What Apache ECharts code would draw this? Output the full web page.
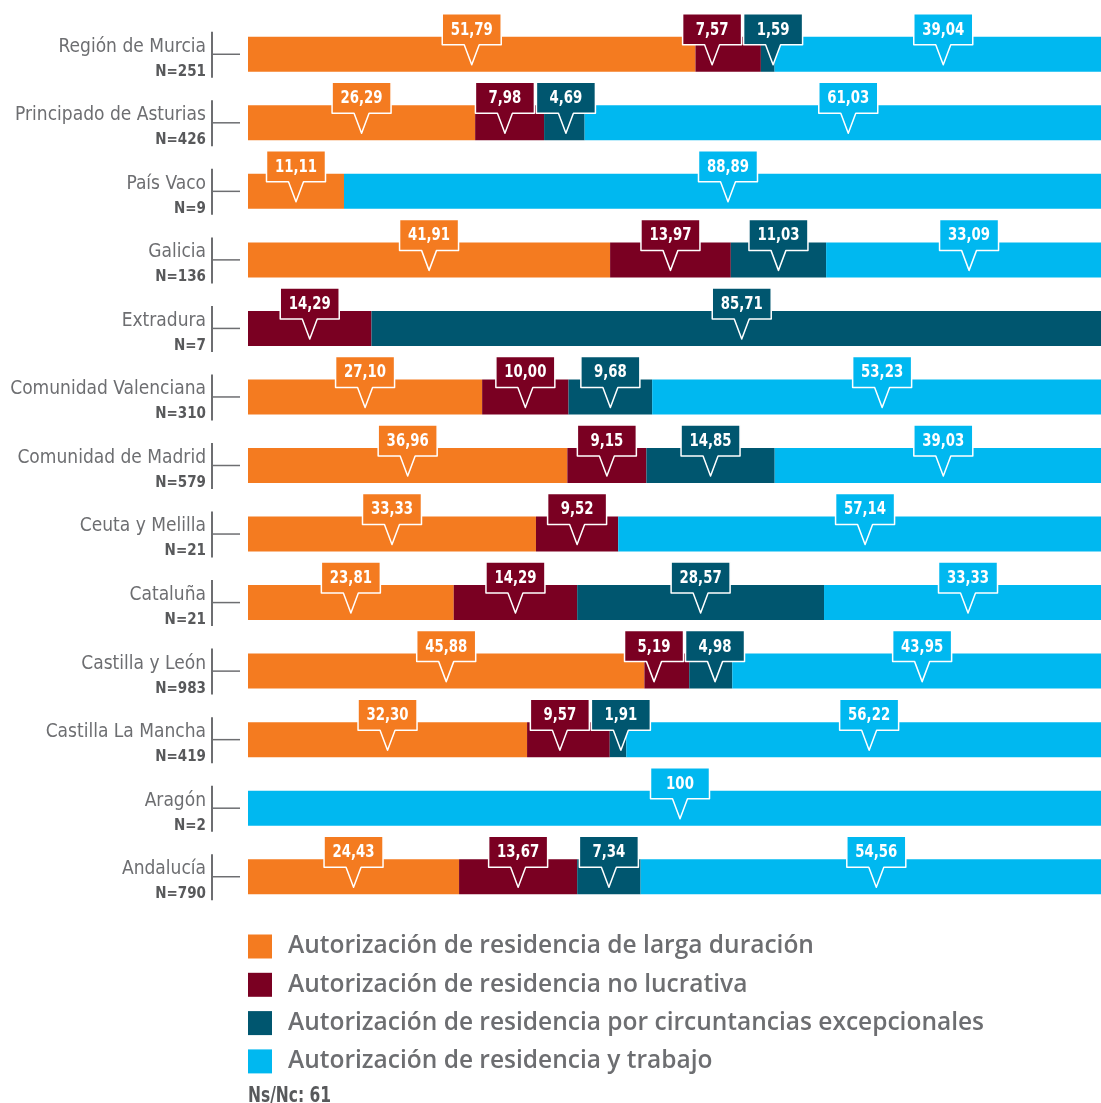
<!DOCTYPE html>
<html>
<head>
<meta charset="utf-8">
<script src="https://cdn.jsdelivr.net/npm/echarts@6/dist/echarts.min.js"></script>
<style>
  html, body { margin: 0; padding: 0; background: #fff; overflow: hidden; }
  #chart { width: 1101px; height: 1103px; }
</style>
</head>
<body>
<div id="chart"></div>
<script>
// comunidades (de arriba a abajo)
var regiones = ['Región de Murcia', 'Principado de Asturias', 'País Vaco', 'Galicia', 'Extradura',
    'Comunidad Valenciana', 'Comunidad de Madrid', 'Ceuta y Melilla', 'Cataluña', 'Castilla y León',
    'Castilla La Mancha', 'Aragón', 'Andalucía'];
var tamanos = ['N=251', 'N=426', 'N=9', 'N=136', 'N=7', 'N=310', 'N=579', 'N=21', 'N=21', 'N=983', 'N=419', 'N=2', 'N=790'];

var nombres = ['Autorización de residencia de larga duración',
    'Autorización de residencia no lucrativa',
    'Autorización de residencia por circuntancias excepcionales',
    'Autorización de residencia y trabajo'];
var colores = ['#F47B20', '#7A0022', '#00566F', '#00B8F0'];

// porcentajes por tipo de autorización
var largaDuracion = [51.79, 26.29, 11.11, 41.91, 0, 27.10, 36.96, 33.33, 23.81, 45.88, 32.30, 0, 24.43];
var noLucrativa   = [7.57, 7.98, 0, 13.97, 14.29, 10.00, 9.15, 9.52, 14.29, 5.19, 9.57, 0, 13.67];
var excepcionales = [1.59, 4.69, 0, 11.03, 85.71, 9.68, 14.85, 0, 28.57, 4.98, 1.91, 0, 7.34];
var trabajo       = [39.04, 61.03, 88.89, 33.09, 0, 53.23, 39.03, 57.14, 33.33, 43.95, 56.22, 100, 54.56];

var nsnc = 'Ns/Nc: 61';

var valores = [largaDuracion, noLucrativa, excepcionales, trabajo];

function fmt(v) {
    if (v === 100) return '100';
    return v.toFixed(2).replace('.', ',');
}

// datos para los globos: [inicio, fin, categoria, serie, valor]
var globos = [];
for (var i = 0; i < regiones.length; i++) {
    var acc = 0;
    for (var s = 0; s < valores.length; s++) {
        var v = valores[s][i];
        if (v > 0) globos.push([acc, acc + v, i, s, v]);
        acc += v;
    }
}
var marcas = regiones.map(function (r, i) { return [0, i]; });

var fuenteEstrecha = '"DejaVu Sans Condensed", "DejaVu Sans", sans-serif';
var anchoGlobo = 59;

// centros de los globos de una fila, separados si se solapan
function centrosFila(api, fila) {
    var lista = [];
    for (var k = 0; k < globos.length; k++) {
        if (globos[k][2] !== fila) continue;
        var a = api.coord([globos[k][0], fila]);
        var b = api.coord([globos[k][1], fila]);
        lista.push({ idx: k, c: (a[0] + b[0]) / 2 });
    }
    for (var j = 1; j < lista.length; j++) {
        var d = lista[j].c - lista[j - 1].c;
        if (d < anchoGlobo + 2) {
            var falta = anchoGlobo + 2 - d;
            lista[j - 1].c -= falta * 0.75;
            lista[j].c += falta * 0.25;
        }
    }
    return lista;
}

var series = nombres.map(function (n, s) {
    return {
        name: n,
        type: 'bar',
        stack: 'total',
        barWidth: 35,
        itemStyle: { color: colores[s] },
        data: valores[s]
    };
});

// lineas del eje (segmentos por categoria)
series.push({
    type: 'custom',
    name: 'eje',
    clip: false,
    silent: true,
    encode: { x: 0, y: 1 },
    data: marcas,
    renderItem: function (params, api) {
        var p = api.coord([0, api.value(1)]);
        var x = p[0] - 36;
        return {
            type: 'group',
            children: [
                { type: 'line', shape: { x1: x, y1: p[1] - 22.5, x2: x, y2: p[1] + 23.5 },
                  style: { stroke: '#6d6e71', lineWidth: 2 } },
                { type: 'line', shape: { x1: x, y1: p[1], x2: p[0] - 8, y2: p[1] },
                  style: { stroke: '#6d6e71', lineWidth: 1.5 } }
            ]
        };
    }
});

// globos con los valores
series.push({
    type: 'custom',
    name: 'globos',
    clip: false,
    silent: true,
    z: 10,
    encode: { x: [0, 1], y: 2 },
    data: globos,
    renderItem: function (params, api) {
        var fila = api.value(2);
        var s = api.value(3);
        var p0 = api.coord([api.value(0), fila]);
        var lista = centrosFila(api, fila);
        var cx = p0[0];
        for (var k = 0; k < lista.length; k++) {
            if (lista[k].idx === params.dataIndex) cx = lista[k].c;
        }
        var top = p0[1] - 17.5;
        var w = anchoGlobo / 2;
        var l = cx - w, r = cx + w, t = top - 23, b = top + 8, tip = top + 28;
        return {
            type: 'group',
            children: [
                {
                    type: 'polygon',
                    shape: { points: [[l, t], [r, t], [r, b], [cx + 7.5, b], [cx, tip], [cx - 7.5, b], [l, b]] },
                    style: { fill: colores[s], stroke: '#fff', lineWidth: 1.5, lineJoin: 'round' }
                },
                {
                    type: 'text',
                    x: cx,
                    y: (t + b) / 2 + 1,
                    scaleX: 0.87,
                    style: {
                        text: fmt(api.value(4)),
                        x: 0, y: 0,
                        align: 'center', verticalAlign: 'middle',
                        fill: '#fff',
                        font: 'bold 17px ' + fuenteEstrecha
                    }
                }
            ]
        };
    }
});

var myChart = echarts.init(document.getElementById('chart'));
var option = {
    animation: false,
    grid: { left: 248, width: 864, top: 20, height: 891, outerBoundsMode: 'none', containLabel: false },
    xAxis: { type: 'value', min: 0, max: 100, show: false },
    yAxis: {
        type: 'category',
        inverse: true,
        data: regiones,
        axisLine: { show: false },
        axisTick: { show: false },
        axisLabel: {
            margin: 42,
            padding: [10, 0, 0, 0],
            formatter: function (val, idx) {
                return '{n|' + val + '}\n{c|' + tamanos[idx] + '}';
            },
            rich: {
                n: { fontFamily: fuenteEstrecha, fontSize: 19, color: '#6d6e71', lineHeight: 25, align: 'right' },
                c: { fontFamily: fuenteEstrecha, fontWeight: 'bold', fontSize: 15, color: '#58595b', lineHeight: 25, align: 'right' }
            }
        }
    },
    legend: {
        data: nombres,
        orient: 'vertical',
        left: 248,
        top: 934,
        padding: 0,
        icon: 'rect',
        itemWidth: 24,
        itemHeight: 24,
        itemGap: 13.3,
        selectedMode: false,
        textStyle: { fontFamily: 'Open Sans', fontWeight: 600, fontSize: 24.5, lineHeight: 24, color: '#6d6e71', padding: [0, 0, 0, 11] }
    },
    graphic: [{
        type: 'text',
        left: 248,
        top: 1086,
        scaleX: 0.82,
        style: {
            text: nsnc,
            fill: '#58595b',
            font: 'bold 21px ' + fuenteEstrecha
        }
    }],
    series: series
};
myChart.setOption(option);
</script>
</body>
</html>
